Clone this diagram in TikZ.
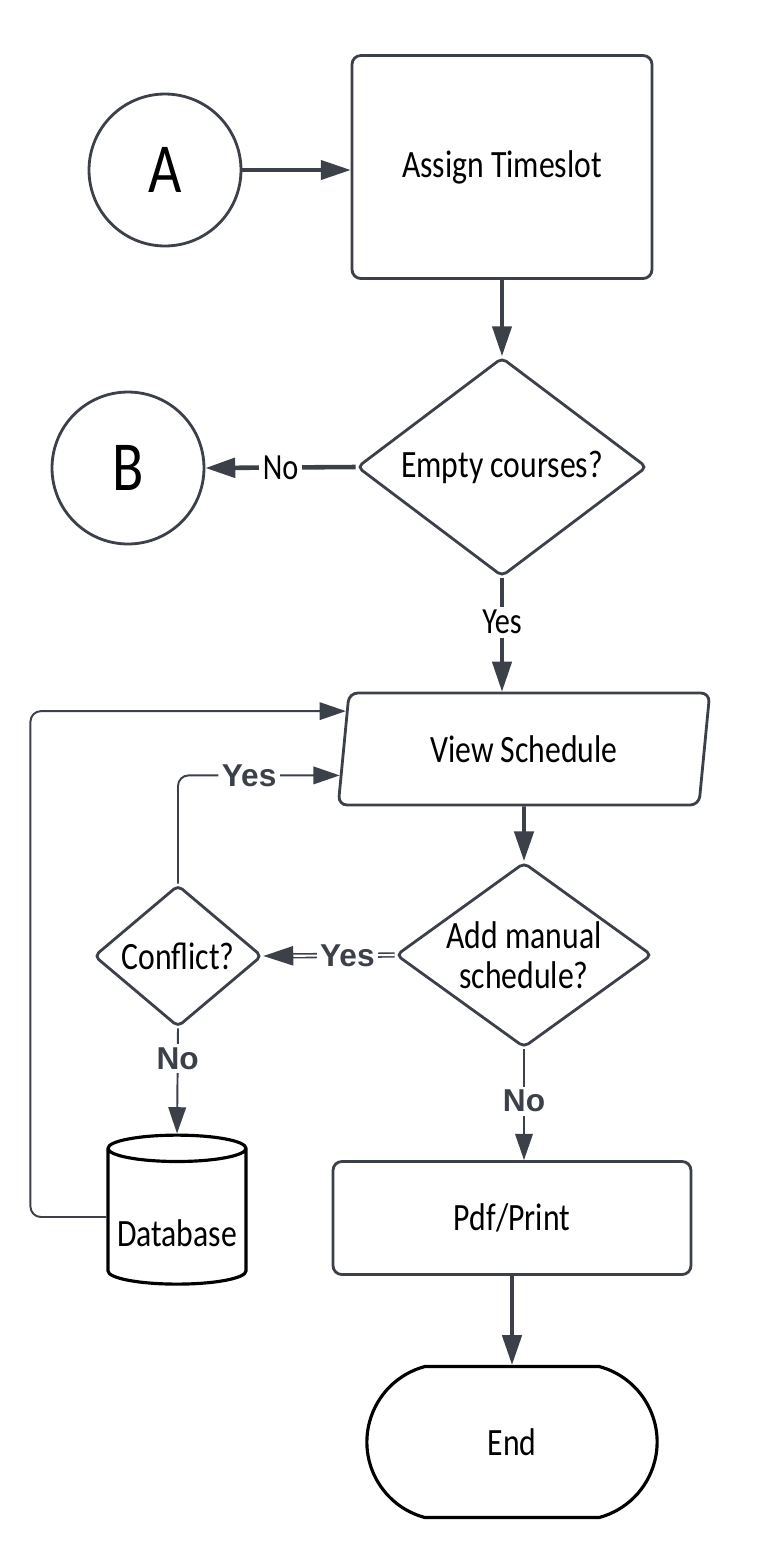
\documentclass[tikz,border=0pt]{standalone}
\usepackage{fontspec}
\setmainfont{Carlito}[FakeStretch=0.82]
\newfontfamily\lblfont{Liberation Sans}
\usetikzlibrary{shapes.geometric,shapes.misc,arrows.meta,calc,positioning}
\definecolor{edge}{HTML}{3B4049}

\begin{document}
\begin{tikzpicture}[x=0.02cm, y=-0.02cm,
    txt/.style={font=\fontsize{22}{23}\selectfont, text=black},
    box/.style={txt, draw=edge, line width=1.6pt, rounded corners=5pt, inner sep=0pt},
    conn/.style={txt, draw=edge, line width=1.6pt, circle, inner sep=0pt, minimum size=3.04cm, font=\fontsize{40}{40}\selectfont},
    decide/.style={box, diamond, rounded corners=3pt, inner sep=-8pt},
    arr/.style={draw=edge, line width=1.8pt, -{Triangle[length=17pt,width=11pt]}},
    thinarr/.style={draw=edge, line width=1.1pt, -{Triangle[length=15pt,width=10pt]}},
    yesno/.style={fill=white, inner sep=2pt, text=black, font=\fontsize{21}{21}\selectfont},
    boldlbl/.style={fill=white, inner sep=2pt, text=edge, font=\lblfont\bfseries\fontsize{18}{18}\selectfont}]
\useasboundingbox (0,0) rectangle (767,1566);

% connectors A and B
\node[conn] (A) at (165,170) {A};
\node[conn] (B) at (128,468) {B};

% main column
\node[box, minimum width=6cm, minimum height=4.46cm] (assign) at (502,167) {Assign Timeslot};
\node[decide, minimum width=5.8cm, minimum height=4.38cm] (empty) at (502,467) {Empty courses?};
\node[box, trapezium, trapezium left angle=78, trapezium right angle=102, trapezium stretches=true,
      minimum width=7.44cm, minimum height=2.24cm] (view) at (524,749) {View Schedule};
\node[decide, minimum width=5.12cm, minimum height=3.7cm, align=center, inner sep=-14pt] (add) at (524,955) {Add manual\\schedule?};
\node[decide, minimum width=3.36cm, minimum height=2.84cm] (conflict) at (178,956) {Conflict?};
\node[txt, draw=black, line width=1.8pt, cylinder, shape border rotate=90, aspect=0.22,
      minimum width=2.76cm, minimum height=2.98cm, inner sep=0pt] (db) at (177,1217) {\raisebox{-17pt}[0pt][0pt]{Database}};
\node[box, minimum width=7.16cm, minimum height=2.26cm] (pdf) at (512,1218) {Pdf/Print};
\node[txt, draw=black, line width=1.8pt, rounded rectangle, rounded rectangle arc length=150,
      minimum width=6.04cm, minimum height=3.02cm] (end) at (512,1442) {End};

% arrows
\draw[arr] (A.east) -- (A.east -| assign.west);
\draw[arr] (assign.south) -- (empty.north);
\draw[arr, line width=2.6pt] (empty.west) -- (B.east) node[midway, yesno] {No};
\draw[arr] (empty.south) -- (empty.south |- view.north) node[pos=0.39, yesno] {Yes};
\draw[arr, line width=2.2pt] (view.south) -- (add.north);
\draw[draw=edge, line width=0.9pt, double=white, double distance=1.2pt, -{Triangle[length=17pt,width=11pt]}]
    (add.west) -- (conflict.east) node[pos=0.36, boldlbl] {Yes};
\draw[thinarr, rounded corners=6pt] (conflict.north) |- ($(view.bottom left corner)!0.27!(view.top left corner)$)
    node[pos=0.72, boldlbl] {Yes};
\draw[thinarr] (conflict.south) -- (db.north) node[pos=0.29, boldlbl] {No};
\draw[thinarr, rounded corners=6pt] (db.west) -- ++(-76,0) |- ($(view.bottom left corner)!0.83!(view.top left corner)$);
\draw[thinarr] (add.south) -- (add.south |- pdf.north) node[pos=0.47, boldlbl] {No};
\draw[arr, line width=2.2pt] (pdf.south) -- (end.north);
\end{tikzpicture}
\end{document}
